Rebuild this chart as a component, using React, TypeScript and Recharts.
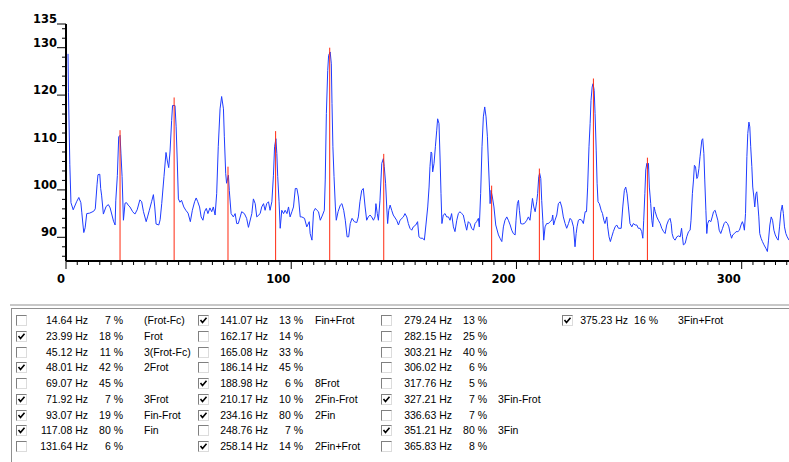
import React from 'react';
import { LineChart, Line, XAxis, YAxis, ReferenceLine } from 'recharts';

// Spectrum trace (frequency in Hz, level in dB)
const freqHz = [
  0.9, 1.1, 1.7, 2.2, 3.2, 4.7, 5.7, 6.6, 7.0, 7.5, 7.9, 8.5, 9.2, 10.5, 12.3, 13.0, 13.8, 14.2, 15.0, 15.4,
  15.8, 16.6, 17.8, 18.8, 19.6, 21.1, 21.8, 22.1, 22.8, 23.4, 24.0, 24.4, 24.9, 25.5, 26.2, 26.9, 27.6, 28.4, 29.6, 30.6,
  31.6, 32.8, 33.6, 34.4, 35.6, 36.2, 37.0, 38.0, 38.8, 39.4, 40.0, 41.2, 41.8, 42.5, 43.5, 44.4, 45.0, 45.6, 46.2, 46.9,
  47.3, 48.4, 48.9, 49.4, 49.9, 50.6, 51.3, 52.3, 53.2, 54.2, 55.2, 56.1, 57.1, 57.8, 58.5, 59.3, 60.0, 60.8, 61.5, 62.3,
  63.0, 63.9, 64.7, 65.4, 66.2, 66.9, 67.6, 68.4, 69.1, 69.9, 70.3, 70.9, 71.3, 72.1, 72.5, 73.3, 74.3, 75.1, 75.8, 76.5,
  78.0, 79.2, 80.2, 81.0, 82.5, 83.2, 84.0, 84.7, 86.2, 86.9, 87.7, 88.4, 89.1, 89.9, 90.6, 91.4, 92.1, 92.6, 93.2, 93.6,
  94.0, 94.6, 95.1, 95.8, 96.6, 97.3, 98.1, 98.8, 99.5, 100.3, 101.0, 101.8, 102.5, 103.2, 104.0, 104.7, 105.9, 106.9, 108.0, 108.4,
  109.2, 109.9, 110.7, 111.4, 112.1, 112.9, 113.9, 114.7, 115.1, 115.6, 116.2, 116.6, 117.3, 117.8, 118.1, 118.5, 119.0, 119.6, 120.0, 120.8,
  121.8, 122.5, 123.3, 124.0, 124.8, 125.5, 126.2, 127.0, 128.0, 129.1, 129.8, 130.5, 131.3, 132.0, 132.8, 133.5, 134.2, 135.0, 135.7, 136.5,
  137.2, 137.6, 138.2, 138.7, 139.4, 140.2, 140.9, 141.3, 141.9, 142.4, 142.8, 143.3, 143.9, 144.6, 145.3, 146.8, 147.6, 148.3, 149.8, 150.5,
  151.3, 152.0, 152.7, 153.5, 154.2, 155.3, 156.1, 156.7, 157.5, 158.4, 159.1, 159.8, 160.6, 161.2, 161.6, 162.1, 162.4, 162.8, 163.4, 164.0,
  164.6, 165.0, 165.6, 166.1, 166.5, 166.9, 167.5, 168.3, 169.0, 169.8, 170.5, 171.2, 172.0, 172.7, 173.5, 174.2, 174.9, 175.7, 176.4, 177.2,
  177.9, 178.6, 179.4, 180.1, 180.9, 181.6, 182.3, 183.1, 183.5, 184.1, 184.7, 185.3, 185.9, 186.5, 187.1, 187.5, 188.0, 188.3, 188.7, 189.3,
  190.0, 190.8, 192.0, 192.7, 193.5, 194.2, 194.9, 195.7, 196.4, 197.2, 197.9, 198.6, 199.4, 199.8, 200.4, 200.9, 201.3, 201.9, 202.6, 203.5,
  204.6, 205.3, 206.0, 206.5, 207.1, 207.7, 208.3, 209.0, 209.4, 209.9, 210.3, 210.8, 211.2, 211.7, 212.1, 212.7, 213.4, 214.2, 214.9, 215.7,
  216.1, 216.5, 217.1, 217.9, 218.6, 219.4, 220.1, 220.8, 221.6, 222.3, 223.1, 223.8, 224.5, 225.3, 226.0, 226.5, 226.9, 227.5, 228.2, 229.0,
  229.7, 230.5, 231.1, 231.6, 232.2, 232.7, 233.1, 233.6, 234.0, 234.5, 234.9, 235.4, 235.8, 236.2, 236.8, 237.6, 238.2, 238.8, 239.3, 240.1,
  240.5, 241.1, 241.7, 242.3, 243.0, 243.8, 244.5, 245.3, 246.5, 247.2, 247.9, 248.5, 249.1, 249.7, 250.4, 251.2, 251.9, 252.7, 253.4, 254.1,
  254.9, 255.6, 256.1, 256.5, 257.0, 257.4, 257.9, 258.3, 258.6, 259.0, 259.6, 260.1, 260.5, 261.1, 261.6, 262.3, 263.0, 263.8, 264.5, 265.3,
  266.0, 266.7, 267.5, 268.2, 268.7, 269.1, 269.7, 270.4, 271.2, 271.9, 272.7, 273.3, 273.7, 274.1, 274.9, 275.6, 276.4, 277.1, 277.5, 278.1,
  278.6, 279.0, 279.5, 280.1, 280.5, 281.0, 281.5, 282.3, 282.7, 283.2, 283.6, 284.1, 284.5, 284.9, 285.5, 286.3, 286.9, 287.5, 288.2, 288.6,
  289.4, 290.0, 290.7, 291.5, 292.2, 292.9, 293.7, 294.3, 294.9, 295.5, 296.0, 296.8, 297.5, 298.3, 299.0, 299.7, 300.3, 300.8, 301.2, 301.7,
  302.3, 302.7, 303.2, 303.6, 304.0, 304.5, 304.9, 305.4, 305.8, 306.3, 306.7, 307.2, 307.6, 308.0, 308.6, 309.2, 309.9, 310.7, 311.4, 311.9,
  312.5, 313.1, 313.7, 314.3, 314.9, 315.6, 316.2, 316.8, 317.4, 318.0, 318.5, 319.0, 319.6, 320.2, 321.0,
];
const levelDb = [
  128.7, 120.6, 105.3, 97.3, 95.8, 97.5, 98.4, 97.3, 95.3, 92.8, 91.0, 92.0, 95.0, 95.1, 95.5, 96.0, 101.2, 103.2, 103.3, 100.3,
  98.9, 94.9, 96.5, 96.9, 96.2, 93.4, 92.6, 97.7, 103.0, 111.2, 111.5, 107.6, 102.8, 93.6, 97.2, 97.3, 96.8, 96.4, 95.4, 94.9,
  95.8, 97.9, 97.5, 95.4, 93.3, 94.3, 95.7, 97.5, 99.0, 96.4, 92.8, 92.6, 93.7, 97.1, 102.8, 107.9, 106.1, 104.7, 108.2, 114.6,
  117.8, 117.8, 113.3, 106.1, 98.1, 97.4, 97.8, 96.4, 95.7, 95.1, 93.3, 95.7, 97.5, 98.3, 97.5, 96.4, 94.3, 93.6, 95.4, 96.1,
  95.0, 96.2, 95.4, 96.4, 94.7, 99.2, 109.1, 117.1, 119.7, 117.1, 111.2, 103.5, 101.4, 103.1, 99.9, 95.0, 94.3, 95.0, 92.9, 92.9,
  95.4, 95.0, 94.0, 92.1, 95.0, 98.1, 97.1, 94.3, 95.0, 96.4, 97.1, 95.7, 97.1, 97.5, 95.7, 97.5, 103.1, 109.1, 110.8, 107.7,
  102.8, 97.5, 91.9, 95.7, 95.0, 95.7, 95.0, 96.4, 94.3, 95.4, 96.4, 100.3, 100.3, 98.5, 94.3, 94.3, 94.0, 92.2, 93.3, 90.8,
  89.4, 95.4, 96.1, 95.7, 95.4, 93.6, 94.7, 95.7, 102.1, 116.1, 125.2, 128.4, 129.1, 126.6, 118.2, 109.1, 102.8, 96.4, 93.6, 95.4,
  96.8, 97.1, 95.7, 93.6, 90.1, 90.1, 92.9, 94.0, 93.3, 93.1, 94.3, 97.5, 99.9, 100.3, 96.4, 93.6, 94.3, 94.7, 94.3, 93.6,
  94.3, 97.1, 95.0, 93.6, 97.8, 105.6, 106.6, 104.9, 101.4, 96.4, 92.9, 95.7, 96.8, 95.7, 94.7, 93.6, 92.6, 93.6, 94.3, 95.0,
  94.3, 92.9, 91.9, 91.5, 92.2, 92.6, 93.3, 90.1, 89.8, 89.8, 89.4, 92.6, 96.4, 100.6, 104.9, 108.0, 107.7, 103.8, 105.6, 109.1,
  112.6, 115.0, 114.0, 106.3, 99.2, 92.9, 94.7, 95.0, 94.3, 94.3, 93.6, 95.0, 92.2, 91.2, 93.6, 95.0, 95.4, 95.0, 94.7, 92.9,
  91.5, 93.3, 92.9, 91.9, 91.5, 92.9, 93.3, 94.0, 92.2, 99.2, 109.1, 115.4, 117.5, 115.4, 111.2, 106.3, 100.6, 97.1, 99.9, 98.5,
  96.4, 92.6, 90.5, 89.8, 89.1, 92.2, 93.6, 94.3, 93.6, 92.6, 91.5, 90.8, 90.5, 93.6, 97.1, 97.8, 95.7, 92.9, 92.8, 92.9,
  93.6, 94.3, 93.6, 95.7, 98.2, 96.4, 95.4, 97.5, 99.2, 102.8, 103.5, 102.4, 97.8, 93.6, 89.4, 92.2, 92.9, 92.9, 93.3, 93.6,
  94.7, 92.6, 93.6, 94.7, 97.1, 97.5, 96.4, 94.3, 92.9, 91.9, 92.9, 94.0, 93.6, 92.2, 88.0, 90.8, 92.2, 93.6, 93.8, 93.6,
  92.9, 95.4, 95.4, 100.6, 109.1, 114.0, 118.9, 121.7, 122.4, 121.0, 116.1, 108.4, 101.4, 97.5, 97.1, 95.7, 95.0, 93.6, 92.9, 94.3,
  92.2, 90.1, 89.1, 90.1, 91.2, 92.2, 92.6, 91.9, 91.9, 96.4, 99.9, 100.6, 99.2, 96.4, 92.9, 92.2, 92.9, 92.6, 92.6, 91.9,
  91.9, 91.2, 89.8, 93.6, 99.2, 104.2, 105.6, 104.5, 105.6, 100.6, 97.1, 93.6, 92.2, 96.4, 95.4, 94.3, 93.6, 92.9, 91.9, 91.2,
  90.8, 92.6, 93.6, 94.0, 92.9, 90.8, 89.8, 89.4, 90.1, 90.3, 90.1, 91.9, 90.1, 88.4, 88.7, 90.1, 91.2, 91.5, 93.6, 99.2,
  102.1, 105.2, 104.9, 102.4, 102.8, 104.5, 107.0, 110.5, 110.8, 107.7, 102.1, 95.7, 90.8, 92.9, 93.6, 93.3, 94.3, 95.4, 95.7, 95.0,
  93.6, 91.5, 90.8, 91.9, 92.9, 93.3, 92.9, 92.2, 90.8, 89.8, 90.5, 90.8, 91.2, 91.2, 91.5, 92.6, 93.3, 92.6, 91.5, 95.0,
  107.0, 111.9, 114.3, 113.3, 109.1, 104.9, 100.6, 98.5, 96.4, 99.2, 99.6, 96.8, 94.3, 90.8, 89.8, 89.1, 88.4, 87.7, 87.0, 89.4,
  92.6, 94.3, 93.6, 91.5, 90.5, 89.8, 89.4, 92.2, 95.4, 96.8, 95.0, 92.2, 90.8, 90.1, 89.4,
];

// Identified (checked) peaks drawn as markers
const markerFreqs = [23.99, 48.01, 71.92, 93.07, 117.08, 141.07, 188.98, 210.17, 234.16, 258.14];
const markerLevels = [112.6, 119.5, 104.9, 112.4, 130.0, 107.6, 100.9, 104.5, 123.5, 106.8];

// Axis ticks
const yTicks = [86, 88, 90, 92, 94, 96, 98, 100, 102, 104, 106, 108, 110, 112, 114, 116, 118, 120, 122, 124, 126, 128, 130, 132, 134, 135];
const yLabeled = [90, 100, 110, 120, 130, 135];
const xMajor = [0, 100, 200, 300];
const xTicks = Array.from({ length: 65 }, (_, i) => i * 5);

// Peak table
const peakFreqs = [
  '14.64 Hz', '23.99 Hz', '45.12 Hz', '48.01 Hz', '69.07 Hz', '71.92 Hz', '93.07 Hz', '117.08 Hz', '131.64 Hz',
  '141.07 Hz', '162.17 Hz', '165.08 Hz', '186.14 Hz', '188.98 Hz', '210.17 Hz', '234.16 Hz', '248.76 Hz', '258.14 Hz',
  '279.24 Hz', '282.15 Hz', '303.21 Hz', '306.02 Hz', '317.76 Hz', '327.21 Hz', '336.63 Hz', '351.21 Hz', '365.83 Hz',
  '375.23 Hz',
];
const peakPcts = [
  '7 %', '18 %', '11 %', '42 %', '45 %', '7 %', '19 %', '80 %', '6 %',
  '13 %', '14 %', '33 %', '45 %', '6 %', '10 %', '80 %', '7 %', '14 %',
  '13 %', '25 %', '40 %', '6 %', '5 %', '7 %', '7 %', '80 %', '8 %',
  '16 %',
];
const peakNames = [
  '(Frot-Fc)', 'Frot', '3(Frot-Fc)', '2Frot', '', '3Frot', 'Fin-Frot', 'Fin', '',
  'Fin+Frot', '', '', '', '8Frot', '2Fin-Frot', '2Fin', '', '2Fin+Frot',
  '', '', '', '', '', '3Fin-Frot', '', '3Fin', '',
  '3Fin+Frot',
];
const peakChecked = [
  false, true, false, true, false, true, true, true, false,
  true, false, false, false, true, true, true, false, true,
  false, false, false, false, false, true, false, true, false,
  true,
];

const rows = freqHz.map((f, i) => ({ f, v: levelDb[i] }));

const axisFont = { fontFamily: '"DejaVu Sans", sans-serif', fontWeight: 700, fontSize: 11.5, fill: '#000' };

const XTick = (props: any) => {
  const { x, y, payload } = props;
  const v = payload.value;
  const major = xMajor.includes(v);
  return (
    <g>
      <line x1={x} x2={x} y1={y} y2={y + (major ? 8 : 4)} stroke="#000" strokeWidth={1} />
      {major && (
        <text x={x - 1} y={y + 22} textAnchor="end" style={axisFont}>
          {v}
        </text>
      )}
    </g>
  );
};

const YTick = (props: any) => {
  const { x, y, payload } = props;
  const v = payload.value;
  const lab = yLabeled.includes(v);
  return (
    <g>
      <line x1={x - (lab ? 9 : 4)} x2={x} y1={y} y2={y} stroke="#000" strokeWidth={1} />
      {lab && (
        <text x={x - 9} y={y - 1} textAnchor="end" style={axisFont}>
          {v}
        </text>
      )}
    </g>
  );
};

const colCb = [16, 198, 381, 562];
const colFreqRight = [88, 268, 452, 628];
const colPctRight = [123, 303, 487, 658];
const colLabelLeft = [144, 315, 498, 678];
const rowCenter0 = 320;
const rowPitch = 15.75;

const tableFont: React.CSSProperties = {
  position: 'absolute',
  fontFamily: 'Arial, "Liberation Sans", sans-serif',
  fontSize: 10.5,
  lineHeight: '12px',
  color: '#000',
  whiteSpace: 'nowrap',
};

const CheckBox = ({ x, y, checked }: { x: number; y: number; checked: boolean }) => (
  <div
    style={{
      position: 'absolute',
      left: x,
      top: y,
      width: 9,
      height: 9,
      background: '#fff',
      borderTop: '1px solid #808080',
      borderLeft: '1px solid #808080',
      borderRight: '1px solid #dcdcdc',
      borderBottom: '1px solid #dcdcdc',
    }}
  >
    {checked && (
      <svg width={9} height={9} style={{ position: 'absolute', left: 0, top: 0 }}>
        <path d="M1.5 4 L3.5 6.5 L7.5 1.8" stroke="#000" strokeWidth={1.6} fill="none" />
      </svg>
    )}
  </div>
);

const PeakTable = () => (
  <>
    <div style={{ position: 'absolute', left: 10, top: 304, width: 779, height: 2, background: '#c8c8c8' }} />
    <div style={{ position: 'absolute', left: 11, top: 308, width: 778, height: 1, background: '#909090' }} />
    <div style={{ position: 'absolute', left: 11, top: 308, width: 1, height: 154, background: '#909090' }} />
    {peakFreqs.map((fq, i) => {
      const c = Math.floor(i / 9);
      const r = i % 9;
      const cy = rowCenter0 + r * rowPitch;
      return (
        <React.Fragment key={i}>
          <CheckBox x={colCb[c]} y={Math.round(cy - 5)} checked={peakChecked[i]} />
          <div style={{ ...tableFont, right: 789 - colFreqRight[c], top: cy - 6, textAlign: 'right' }}>{fq}</div>
          <div style={{ ...tableFont, right: 789 - colPctRight[c], top: cy - 6, textAlign: 'right' }}>{peakPcts[i]}</div>
          {peakNames[i] && (
            <div style={{ ...tableFont, left: colLabelLeft[c], top: cy - 6 }}>{peakNames[i]}</div>
          )}
        </React.Fragment>
      );
    })}
  </>
);

export default function App() {
  return (
    <div
      style={{
        position: 'absolute',
        left: 0,
        top: 0,
        width: 789,
        height: 462,
        background: '#fff',
        overflow: 'hidden',
      }}
    >
      <LineChart width={789} height={292} data={rows} margin={{ top: 24, right: 0, left: 0, bottom: 0 }}>
        <XAxis
          dataKey="f"
          type="number"
          domain={[0, 321]}
          allowDataOverflow
          ticks={xTicks}
          interval={0}
          tickLine={false}
          tickSize={0}
          tickMargin={0}
          height={31}
          axisLine={{ stroke: '#000', strokeWidth: 2 }}
          tick={(p: any) => <XTick {...p} />}
        />
        <YAxis
          type="number"
          domain={[85, 135]}
          allowDataOverflow
          ticks={yTicks}
          interval={0}
          tickLine={false}
          tickSize={0}
          tickMargin={0}
          width={66}
          axisLine={{ stroke: '#000', strokeWidth: 2 }}
          tick={(p: any) => <YTick {...p} />}
        />
        <Line
          type="linear"
          dataKey="v"
          stroke="#1f3cff"
          strokeWidth={1}
          dot={false}
          activeDot={false}
          isAnimationActive={false}
        />
        {markerFreqs.map((f, i) => (
          <ReferenceLine
            key={f}
            segment={[
              { x: f, y: 85 },
              { x: f, y: markerLevels[i] },
            ]}
            stroke="#ff2a10"
            strokeWidth={1}
          />
        ))}
      </LineChart>
      <PeakTable />
    </div>
  );
}
